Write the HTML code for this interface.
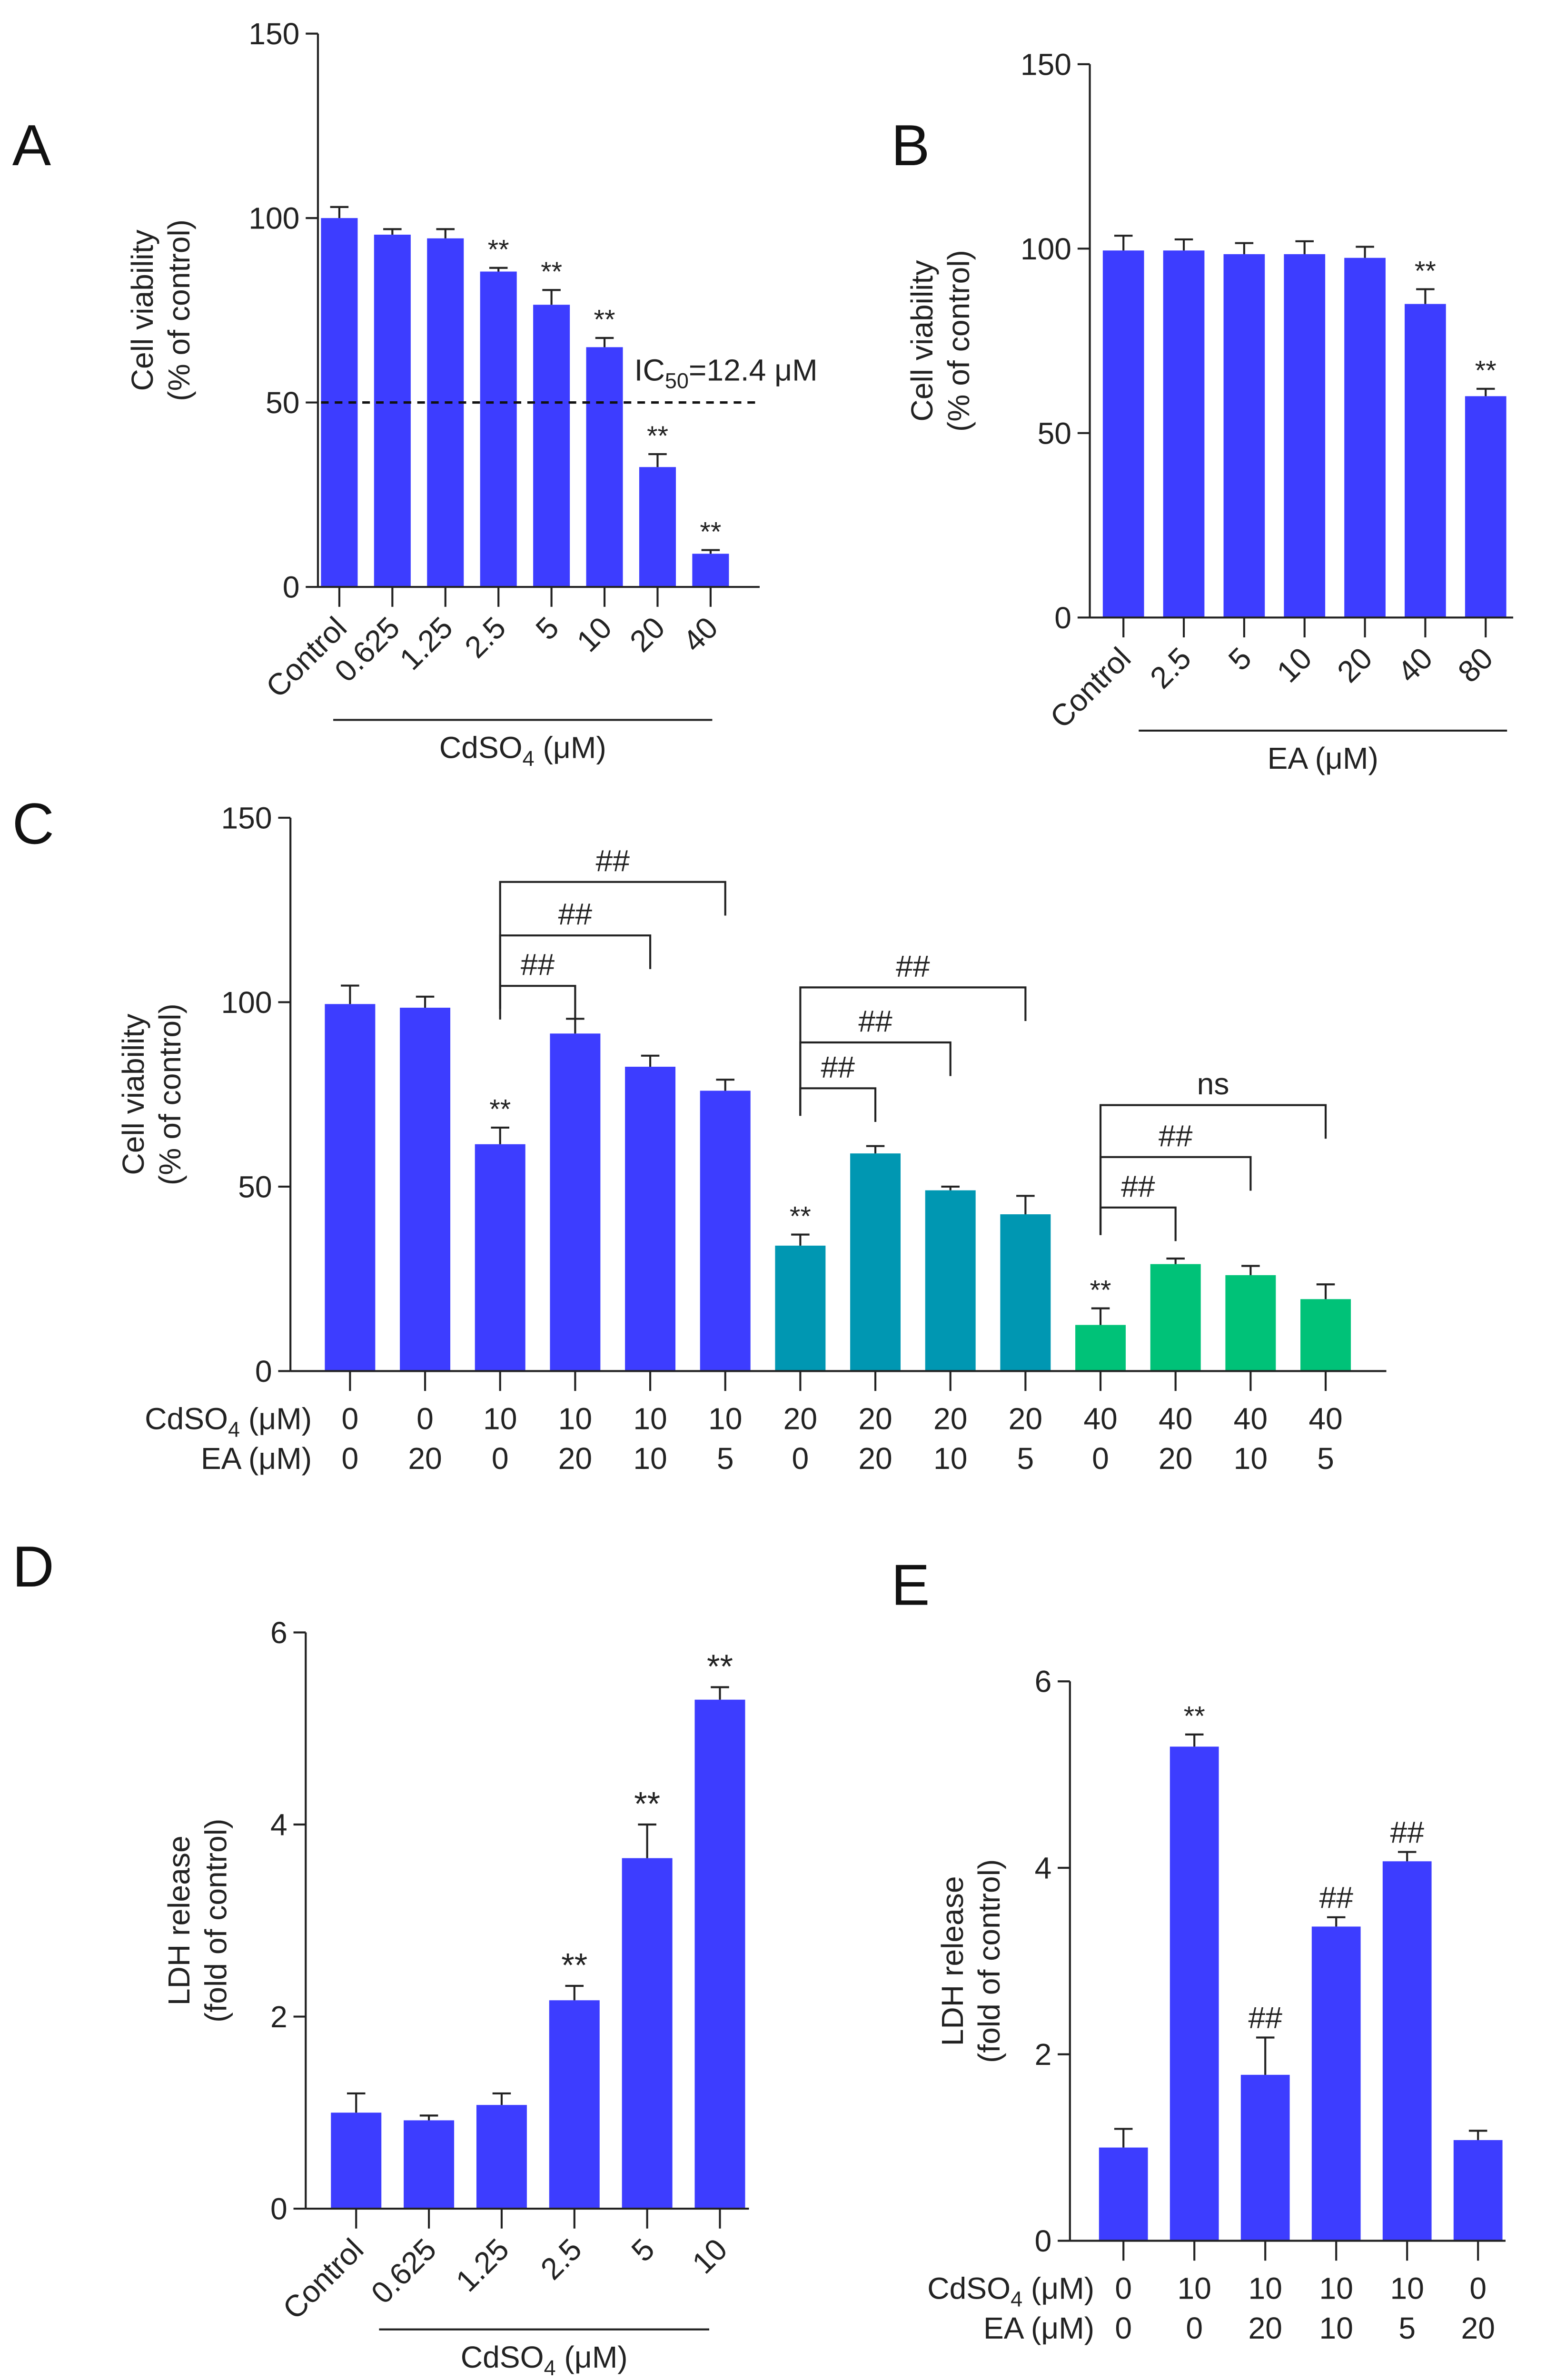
<!DOCTYPE html>
<html><head><meta charset="utf-8"><style>
html,body{margin:0;padding:0;background:#fff;overflow:hidden;width:3269px;height:5080px;}
svg{display:block;font-family:"Liberation Sans",Arial,sans-serif;}
</style></head><body>
<svg id="fig" width="3269" height="5080" viewBox="0 0 1018 1582" xmlns="http://www.w3.org/2000/svg">
<rect width="1018" height="1582" fill="#fff"/>
</svg>
<script>
// ---- data ----
const catsA = ["Control","0.625","1.25","2.5","5","10","20","40"];
const valsA = [100,95.5,94.5,85.5,76.5,65,32.5,9];
const errA = [3,1.5,2.5,1,4,2.5,3.5,1];
const sigA = ["","","","**","**","**","**","**"];

const catsB = ["Control","2.5","5","10","20","40","80"];
const valsB = [99.5,99.5,98.5,98.5,97.5,85,60];
const errB = [4,3,3,3.5,3,4,2];
const sigB = ["","","","","","**","**"];

const cdC = ["0","0","10","10","10","10","20","20","20","20","40","40","40","40"];
const eaC = ["0","20","0","20","10","5","0","20","10","5","0","20","10","5"];
const valsC = [99.5,98.5,61.5,91.5,82.5,76,34,59,49,42.5,12.5,29,26,19.5];
const errC = [5,3,4.5,4,3,3,3,2,1,5,4.5,1.5,2.5,4];
const sigC = ["","","**","","","","**","","","","**","","",""];
const groupC = [0,0,0,0,0,0,1,1,1,1,2,2,2,2];

const catsD = ["Control","0.625","1.25","2.5","5","10"];
const valsD = [1.0,0.92,1.08,2.17,3.65,5.3];
const errD = [0.2,0.05,0.12,0.15,0.35,0.13];
const sigD = ["","","","**","**","**"];

const cdE = ["0","10","10","10","10","0"];
const eaE = ["0","0","20","10","5","20"];
const valsE = [1.0,5.3,1.78,3.37,4.07,1.08];
const errE = [0.2,0.13,0.4,0.1,0.1,0.1];
const sigE = ["","**","##","##","##",""];

const ticksA = [0,50,100,150];
const ticksD = [0,2,4,6];

const COLORS = ["#3d3dff","#0097b2","#00c278"];
const svg = document.getElementById('fig');
const NS = "http://www.w3.org/2000/svg";
function el(tag, attrs, parent, text){
  const e = document.createElementNS(NS, tag);
  for (const k in attrs) e.setAttribute(k, attrs[k]);
  if (text !== undefined) e.textContent = text;
  (parent||svg).appendChild(e);
  return e;
}
function line(x1,y1,x2,y2,g,w){ return el('line',{x1,y1,x2,y2,stroke:'#222','stroke-width':w||1.3},g); }

function panel(cfg){
  const g = el('g',{});
  
  
  const y = v => cfg.y0 - (v - 0) / cfg.max * (cfg.y0 - cfg.yTop);
  const x = i => cfg.x0 + i * cfg.step;
  const ya = line(cfg.ax, cfg.yTop, cfg.ax, cfg.y0, g);
  
  
  cfg.ticks.forEach(t => {
    line(cfg.ax-8, y(t), cfg.ax, y(t), g);
    const tl = el('text',{x:cfg.ax-12,y:y(t)+7,'font-size':20,'text-anchor':'end',fill:'#222'},g,String(t));
    
    
  });
  cfg.vals.forEach((v,i)=>{
    const cx = x(i);
    const b = el('rect',{x:cx-cfg.bw/2,y:y(v),width:cfg.bw,height:cfg.y0-y(v),fill:cfg.color(i)},g);
    
    
    const ey = y(v + cfg.err[i]);
    line(cx, y(v), cx, ey, g, 1.3);
    line(cx-6, ey, cx+6, ey, g, 1.3);
    if (cfg.sig[i]) {
      const s = el('text',{x:cx,y:ey-6,'font-size':cfg.sigSize||(cfg.sig[i]=='##'?20:18),'text-anchor':'middle',fill:'#222'},g,cfg.sig[i]);
      
      
    }
    line(cx, cfg.y0, cx, cfg.y0+13, g);
  });
  const xa = line(cfg.ax, cfg.y0, cfg.axEnd, cfg.y0, g);
  
  
  const yt = el('text',{transform:`translate(${cfg.ytx},${(cfg.yTop+cfg.y0)/2+cfg.ytOff}) rotate(-90)`,'font-size':20,'text-anchor':'middle',fill:'#222'},g);
  
  
  el('tspan',{x:0,dy:0},yt,cfg.yt1);
  el('tspan',{x:0,dy:24},yt,cfg.yt2);
  const pl = el('text',{x:cfg.lx,y:cfg.ly,'font-size':38,fill:'#111'},g,cfg.letter);
  
  
  if (cfg.cats) {
    cfg.cats.forEach((c,i)=>{
      const cx = x(i);
      const t = el('text',{transform:`translate(${cx+6},${cfg.y0+28}) rotate(-45)`,'font-size':20,'text-anchor':'end',fill:'#222'},g,c);
      
      
    });
    line(cfg.ul[0], cfg.ul[2], cfg.ul[1], cfg.ul[2], g);
    const xt = el('text',{x:(cfg.ul[0]+cfg.ul[1])/2,y:cfg.ul[2]+25,'font-size':20,'text-anchor':'middle',fill:'#222'},g);
    
    
    if (cfg.cd) { xt.textContent='CdSO'; el('tspan',{'font-size':14,dy:5},xt,'4'); el('tspan',{dy:-5},xt,' (μM)'); }
    else xt.textContent = cfg.xtitle;
  }
  if (cfg.rows) {
    cfg.rows.forEach((r,ri)=>{
      const ry = cfg.y0 + 38 + ri*26;
      const lab = el('text',{x:cfg.rowLabX,y:ry,'font-size':20,'text-anchor':'end',fill:'#222'},g);
      
      
      if (ri==0){ lab.textContent='CdSO'; el('tspan',{'font-size':14,dy:5},lab,'4'); el('tspan',{dy:-5},lab,' (μM)'); }
      else lab.textContent='EA (μM)';
      r.forEach((v,i)=>{
        const t = el('text',{x:x(i),y:ry,'font-size':20,'text-anchor':'middle',fill:'#222'},g,v);
        
        
      });
    });
  }
  return {g,x,y};
}

const blue = ()=>COLORS[0];
const pA = panel({name:'panel-a-chart',letter:'A',lx:8,ly:108,ax:208,axEnd:497,y0:384,yTop:22,max:150,ticks:ticksA,
  x0:222,step:34.7,bw:24,vals:valsA,err:errA,sig:sigA,color:blue,ytx:100,ytOff:0,
  yt1:'Cell viability',yt2:'(% of control)',cats:catsA,ul:[218,466,471],cd:true});
const dash = el('line',{x1:210,y1:pA.y(50),x2:497,y2:pA.y(50),stroke:'#111','stroke-width':1.6,'stroke-dasharray':'5,4'});


const ic = el('text',{x:415,y:249,'font-size':20,fill:'#222'},svg,'IC');


el('tspan',{'font-size':14,dy:5},ic,'50'); el('tspan',{dy:-5},ic,'=12.4 μM');

panel({name:'panel-b-chart',letter:'B',lx:583,ly:108,ax:713,axEnd:990,y0:404,yTop:42,max:150,ticks:ticksA,
  x0:735,step:39.5,bw:27,vals:valsB,err:errB,sig:sigB,color:blue,ytx:610,ytOff:0,
  yt1:'Cell viability',yt2:'(% of control)',cats:catsB,ul:[745,986,478],xtitle:'EA (μM)'});

const pC = panel({name:'panel-c-chart',letter:'C',lx:8,ly:552,ax:190,axEnd:907,y0:897,yTop:535,max:150,ticks:ticksA,
  x0:229,step:49.1,bw:33,vals:valsC,err:errC,sig:sigC,color:i=>COLORS[groupC[i]],ytx:94,ytOff:0,
  yt1:'Cell viability',yt2:'(% of control)',rows:[cdC,eaC],rowLabX:204});
const bracketStart = [2,2,2,6,6,6,10,10,10];
const bracketEnd = [3,4,5,7,8,9,11,12,13];
const bracketLabel = ["##","##","##","##","##","##","##","##","ns"];
const bracketTop = [645,612,577,712,682,646,790,757,723];
const bracketLeg = [667,660,660,730,730,730,808,808,808];
bracketStart.forEach((s,k)=>{
  const x1 = pC.x(s), x2 = pC.x(bracketEnd[k]);
  const bg = el('g',{});
  
  
  el('path',{d:`M${x1},${bracketLeg[k]} V${bracketTop[k]} H${x2} V${bracketTop[k]+22}`,fill:'none',stroke:'#222','stroke-width':1.3},bg);
  el('text',{x:(x1+x2)/2,y:bracketTop[k]-7,'font-size':20,'text-anchor':'middle',fill:'#222'},bg,bracketLabel[k]);
});

panel({name:'panel-d-chart',letter:'D',lx:8,ly:1038,ax:200,axEnd:490,y0:1445,yTop:1068,max:6,ticks:ticksD,
  x0:233,step:47.6,bw:33,vals:valsD,err:errD,sig:sigD,sigSize:22,color:blue,ytx:124,ytOff:0,
  yt1:'LDH release',yt2:'(fold of control)',cats:catsD,ul:[248,464,1524],cd:true});

panel({name:'panel-e-chart',letter:'E',lx:583,ly:1050,ax:700,axEnd:985,y0:1466,yTop:1100,max:6,ticks:ticksD,
  x0:735,step:46.4,bw:32,vals:valsE,err:errE,sig:sigE,color:blue,ytx:630,ytOff:0,
  yt1:'LDH release',yt2:'(fold of control)',rows:[cdE,eaE],rowLabX:716});
</script>
</body></html>
